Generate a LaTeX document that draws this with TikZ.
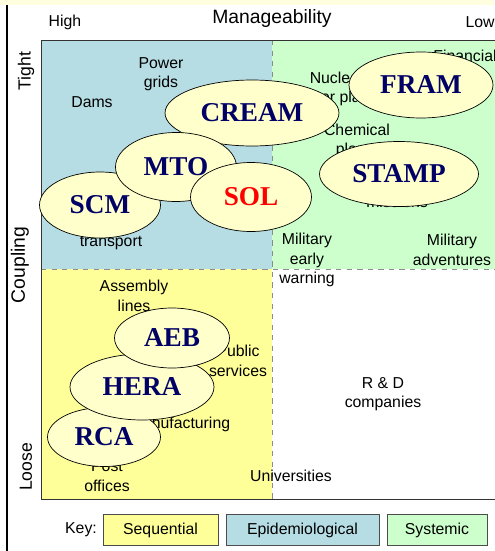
\documentclass[tikz,border=0pt]{standalone}
\usepackage{fontspec}
\setmainfont{Liberation Sans}
\newfontfamily\methodfont{Liberation Serif}
\usetikzlibrary{shapes.geometric}
\definecolor{epiBlue}{RGB}{183,221,228}
\definecolor{sysGreen}{RGB}{204,255,204}
\definecolor{seqYellow}{RGB}{255,255,153}
\definecolor{ovalFill}{RGB}{255,255,204}
\definecolor{methodBlue}{RGB}{0,0,102}
\definecolor{stripYellow}{RGB}{255,255,224}

\begin{document}
\begin{tikzpicture}[x=0.02cm, y=-0.02cm,
    lbl/.style={font=\fontsize{9}{11}\selectfont, align=center, inner sep=0pt},
    method/.style={ellipse, draw=black, thin, fill=ovalFill, inner sep=0pt,
      font=\methodfont\bfseries\fontsize{15.5}{18}\selectfont, text=methodBlue},
    keybox/.style={draw=black!70, fill=#1, minimum height=0.62cm,
      font=\fontsize{9}{11}\selectfont}]
      \useasboundingbox (0,0) rectangle (494,551);
      \fill[stripYellow] (0,0) rectangle (494,5);
      \draw[line width=1.4pt] (7,5) -- (7,551);

      % Quadrants
      \fill[epiBlue] (41,40) rectangle (272,269);
      \fill[sysGreen] (272,40) rectangle (500,269);
      \fill[seqYellow] (41,269) rectangle (272,499);
      \draw[black!45, dashed] (272,40) -- (272,499);
      \draw[black!45, dashed] (41,269) -- (500,269);
      \draw[black!80] (500,40) -- (41,40) -- (41,499) -- (500,499);

      % Axis labels
      \node[lbl] (high) at (65,22) {High};
      \node[lbl, font=\fontsize{11}{13}\selectfont] (title) at (272,19) {Manageability};
      \node[lbl] (low) at (480,22) {Low};
      \node[lbl, rotate=90, font=\fontsize{10}{12}\selectfont] (tight) at (26,71) {Tight};
      \node[lbl, rotate=90, font=\fontsize{11}{13}\selectfont] (coupling) at (20,265) {Coupling};
      \node[lbl, rotate=90, font=\fontsize{10}{12}\selectfont] (loose) at (26,467) {Loose};

      % Systems
      \node[lbl] (grids) at (161,74) {Power\\grids};
      \node[lbl] (dams) at (92,102) {Dams};
      \node[lbl] (nuclear) at (337,89) {Nuclear\\power plants};
      \node[lbl] (financial) at (465,56) {Financial};
      \node[lbl] (chemical) at (357,141) {Chemical\\plants};
      \node[lbl] (missions) at (397,202) {missions};
      \node[lbl] (transport) at (111,243) {transport};
      \node[lbl] (warning) at (307,260) {Military\\early\\warning};
      \node[lbl] (adventures) at (452,250) {Military\\adventures};
      \node[lbl] (assembly) at (134,296) {Assembly\\lines};
      \node[lbl] (public) at (238,361) {Public\\services};
      \node[lbl] (manuf) at (180,424) {Manufacturing};
      \node[lbl] (post) at (107,476) {Post\\offices};
      \node[lbl] (univ) at (291,476) {Universities};
      \node[lbl] (rnd) at (383,394) {R \& D\\companies};

      % Methods
      \node[method, minimum width=3.48cm, minimum height=1.32cm] (cream) at (252,113) {CREAM};
      \node[method, minimum width=2.42cm, minimum height=1.32cm] (scm) at (100,205) {SCM};
      \node[method, minimum width=2.42cm, minimum height=1.38cm] (mto) at (176,167) {MTO};
      \node[method, minimum width=2.42cm, minimum height=1.38cm, text=red] (sol) at (251,197) {SOL};
      \node[method, minimum width=2.88cm, minimum height=1.32cm] (fram) at (421,85) {FRAM};
      \node[method, minimum width=3.18cm, minimum height=1.30cm] (stamp) at (399,174) {STAMP};
      \node[method, minimum width=2.26cm, minimum height=1.18cm] (rca) at (104,437) {RCA};
      \node[method, minimum width=2.88cm, minimum height=1.32cm] (hera) at (142,387) {HERA};
      \node[method, minimum width=2.30cm, minimum height=1.20cm] (aeb) at (172,338) {AEB};

      % Key
      \node[lbl] (key) at (81,530) {Key:};
      \node[keybox=seqYellow, minimum width=2.30cm] (seq) at (160.5,530) {Sequential};
      \node[keybox=epiBlue, minimum width=3.06cm] (epi) at (302.5,530) {Epidemiological};
      \node[keybox=sysGreen, minimum width=2.00cm] (sys) at (437,530) {Systemic};
    \end{tikzpicture}
\end{document}
